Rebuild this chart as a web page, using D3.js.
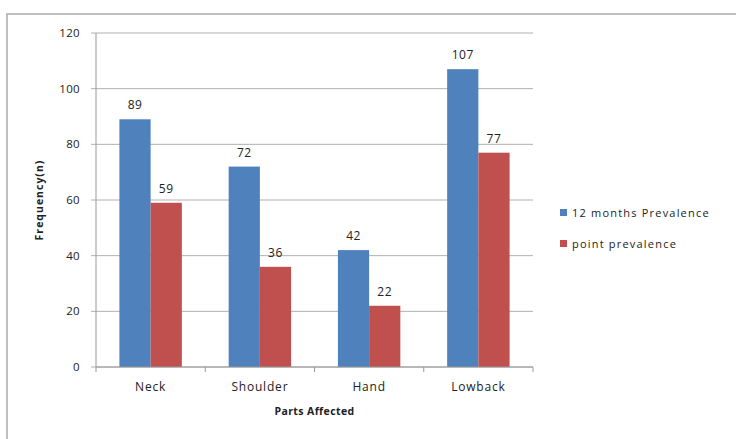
<!DOCTYPE html>
<html>
<head>
<meta charset="utf-8">
<script src="https://cdn.jsdelivr.net/npm/d3@7"></script>
<style>
body { margin: 0; background: #fff; }
text { font-family: "Open Sans", "Liberation Sans", sans-serif; fill: #222; }
</style>
</head>
<body>
<div id="chart"></div>
<script>
const categories = ["Neck", "Shoulder", "Hand", "Lowback"];
const seriesNames = ["12 months Prevalence", "point prevalence"];
const twelveMonths = [89, 72, 42, 107];
const pointPrev = [59, 36, 22, 77];
const yTicks = [0, 20, 40, 60, 80, 100, 120];
const colours = ["#4F81BD", "#C0504D"];

const width = 736;
const height = 439;
const margin = {left: 96, right: 203, top: 33, bottom: 72};

const svg = d3.select("#chart").append("svg")
	.attr("width", width)
	.attr("height", height);

// outer frame
svg.append("rect")
	.attr("x", 7).attr("y", 14)
	.attr("width", width + 10).attr("height", height + 10)
	.attr("fill", "none")
	.attr("stroke", "#aaa")
	.attr("stroke-width", 1.5);

const x = d3.scaleBand()
	.domain(categories)
	.range([margin.left, width - margin.right]);

const inner = d3.scaleBand()
	.domain([0, 1])
	.range([0, x.bandwidth()])
	.paddingInner(0)
	.paddingOuter(0.75);

const y = d3.scaleLinear()
	.domain([0, 120])
	.range([height - margin.bottom, margin.top]);

// gridlines
svg.append("g")
	.selectAll("line")
	.data(yTicks)
	.enter()
	.append("line")
	.attr("x1", margin.left - 5)
	.attr("x2", width - margin.right)
	.attr("y1", (d) => y(d))
	.attr("y2", (d) => y(d))
	.attr("stroke", "#b0b0b0")
	.attr("stroke-width", 1);

// y tick labels
svg.append("g")
	.selectAll("text")
	.data(yTicks)
	.enter()
	.append("text")
	.attr("x", margin.left - 16)
	.attr("y", (d) => y(d))
	.attr("dy", ".35em")
	.attr("text-anchor", "end")
	.style("font-size", "11.5px")
	.style("letter-spacing", "0.3px")
	.text((d) => d);

// y axis line
svg.append("line")
	.attr("x1", margin.left).attr("x2", margin.left)
	.attr("y1", y(120)).attr("y2", y(0))
	.attr("stroke", "#999");

const series = [twelveMonths, pointPrev];

series.forEach((values, i) => {
	svg.append("g")
		.selectAll("rect")
		.data(values)
		.enter()
		.append("rect")
		.attr("x", (d, j) => x(categories[j]) + inner(i))
		.attr("y", (d) => y(d))
		.attr("width", inner.bandwidth())
		.attr("height", (d) => y(0) - y(d))
		.attr("fill", colours[i]);

	svg.append("g")
		.selectAll("text")
		.data(values)
		.enter()
		.append("text")
		.attr("x", (d, j) => x(categories[j]) + inner(i) + inner.bandwidth() / 2)
		.attr("y", (d) => y(d) - 10)
		.attr("text-anchor", "middle")
		.style("font-size", "12px")
		.style("letter-spacing", "0.5px")
		.text((d) => d);
});

// x axis line and ticks
svg.append("line")
	.attr("x1", margin.left).attr("x2", width - margin.right)
	.attr("y1", y(0)).attr("y2", y(0))
	.attr("stroke", "#999");

svg.append("g")
	.selectAll("line")
	.data(categories.concat(["end"]))
	.enter()
	.append("line")
	.attr("x1", (d, i) => margin.left + i * x.bandwidth())
	.attr("x2", (d, i) => margin.left + i * x.bandwidth())
	.attr("y1", y(0))
	.attr("y2", y(0) + 5)
	.attr("stroke", "#999");

svg.append("g")
	.selectAll("text")
	.data(categories)
	.enter()
	.append("text")
	.attr("x", (d) => x(d) + x.bandwidth() / 2)
	.attr("y", y(0) + 24)
	.attr("text-anchor", "middle")
	.style("font-size", "12px")
	.style("letter-spacing", "0.8px")
	.text((d) => d);

// axis titles
svg.append("text")
	.attr("x", (margin.left + width - margin.right) / 2)
	.attr("y", 415)
	.attr("text-anchor", "middle")
	.style("font-size", "10.5px")
	.style("font-weight", "bold")
	.style("letter-spacing", "0.4px")
	.text("Parts Affected");

svg.append("text")
	.attr("transform", `translate(43, ${(y(0) + y(120)) / 2}) rotate(-90)`)
	.attr("text-anchor", "middle")
	.style("font-size", "10.5px")
	.style("font-weight", "bold")
	.style("letter-spacing", "1px")
	.text("Frequency(n)");

// legend
const legend = svg.append("g")
	.selectAll("g")
	.data(seriesNames)
	.enter()
	.append("g")
	.attr("transform", (d, i) => `translate(560, ${213 + i * 31})`);

legend.append("rect")
	.attr("x", 0).attr("y", -4)
	.attr("width", 7).attr("height", 7)
	.attr("fill", (d, i) => colours[i]);

legend.append("text")
	.attr("x", 12)
	.attr("dy", ".35em")
	.style("font-size", "11px")
	.style("letter-spacing", "1.2px")
	.text((d) => d);
</script>
</body>
</html>
